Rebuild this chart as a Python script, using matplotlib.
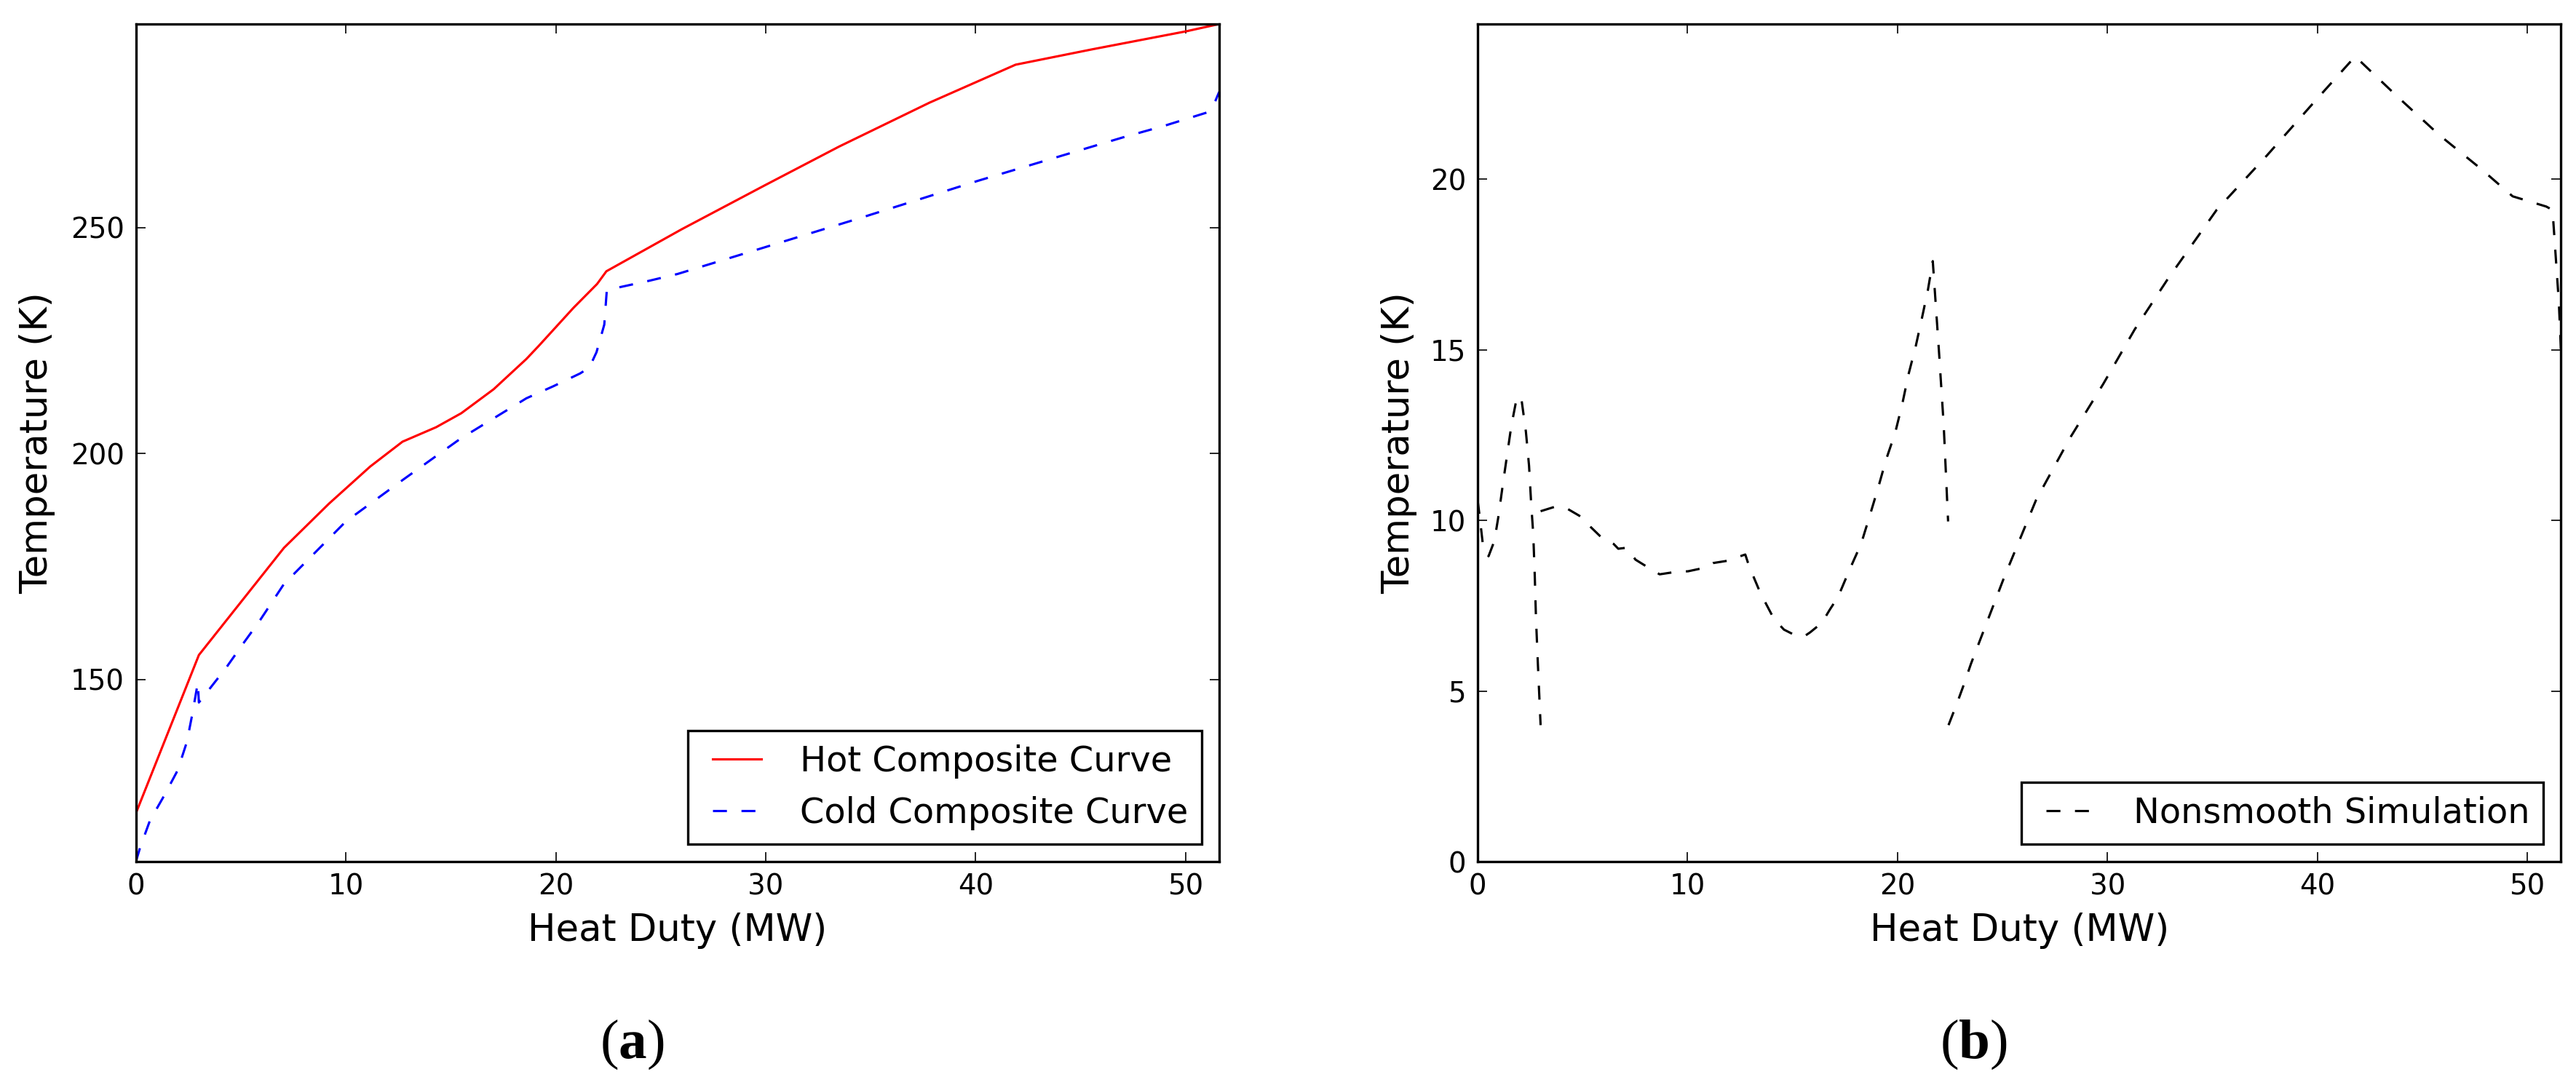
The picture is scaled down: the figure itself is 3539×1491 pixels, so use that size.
import numpy as np
import matplotlib
matplotlib.use("Agg")
import matplotlib.pyplot as plt

# --- data ---
# (a) composite curves
hot_q = [0, 3.0, 7.05, 9.2, 11.16, 12.7, 14.3, 15.5, 17.04, 18.6, 19.19, 20.84,
         21.97, 22.41, 26.0, 29.95, 33.5, 37.8, 41.9, 45.55, 50.04, 51.6]
hot_t = [120.4, 155.4, 179.1, 188.9, 197.1, 202.6, 205.8, 208.9, 214.2, 220.9, 223.8, 232.2,
         237.5, 240.3, 249.6, 259.3, 267.9, 277.6, 286.0, 289.4, 293.4, 295.0]

cold_q = [0, 0.2, 0.67, 1.36, 1.99, 2.43, 2.69, 2.95, 3.0, 3.44, 4.3, 5.12, 5.9, 7.05,
          9.99, 12.73, 15.47, 18.6, 19.9, 21.16, 21.6, 21.94, 22.31, 22.43, 23.07, 24.45,
          25.8, 29.95, 34.65, 40.1, 45.56, 47.0, 49.0, 51.0, 51.4, 51.6]
cold_t = [109.7, 112.8, 118.8, 124.4, 129.9, 136.2, 142.4, 149.3, 144.9, 147.5, 152.6, 158.0, 163.0, 171.1,
          184.9, 194.2, 203.3, 212.2, 214.9, 217.7, 219.0, 222.4, 228.5, 236.1, 236.8, 238.2,
          239.7, 245.6, 252.3, 260.3, 267.9, 269.9, 272.5, 275.4, 277.8, 280.0]

# (b) nonsmooth simulation, three pieces
ns_q1 = [0, 0.1, 0.25, 0.52, 0.8, 1.0, 1.2, 1.4, 1.6, 1.85, 1.97, 2.1, 2.3, 2.45, 2.55,
         2.65, 2.72, 2.78, 2.87, 3.0]
ns_t1 = [10.6, 10.1, 9.3, 8.95, 9.4, 10.15, 11.05, 11.9, 12.75, 13.55, 13.65, 13.5, 12.6, 11.6, 10.5,
         9.6, 8.42, 7.14, 5.8, 4.0]
ns_q2 = [3.0, 3.68, 4.28, 4.92, 5.38, 5.9, 6.48, 6.7, 7.11, 7.52, 8.07, 8.67, 9.31, 10.03,
         10.64, 11.21, 11.93, 12.6, 12.75, 12.93, 13.47, 14.11, 14.59, 15.2, 15.6, 15.84, 16.4,
         16.77, 17.17, 17.72, 18.27, 18.67, 19.08, 19.45, 19.89, 20.23, 20.52, 20.87, 21.16,
         21.45, 21.68, 21.97, 22.2, 22.41]
ns_t2 = [10.27, 10.4, 10.34, 10.11, 9.81, 9.5, 9.31, 9.17, 9.2, 8.85, 8.64, 8.42, 8.48, 8.51,
         8.59, 8.75, 8.82, 8.97, 9.0, 8.66, 7.87, 7.12, 6.8, 6.61, 6.62, 6.72, 7.0,
         7.38, 7.76, 8.56, 9.32, 10.12, 10.96, 11.77, 12.57, 13.42, 14.27, 15.11, 15.92,
         16.76, 17.6, 15.0, 12.8, 9.97]
ns_q3 = [22.43, 22.84, 23.12, 23.5, 25.06, 26.6, 28.2, 29.8, 31.3, 32.9, 35.2, 37.6, 39.9,
         41.8, 43.85, 45.8, 47.8, 49.3, 50.9, 51.2, 51.5, 51.6]
ns_t3 = [4.0, 4.65, 5.12, 5.8, 8.3, 10.6, 12.4, 14.0, 15.6, 17.1, 19.1, 20.7, 22.3,
         23.6, 22.4, 21.3, 20.3, 19.5, 19.2, 19.1, 16.4, 15.0]

plt.rcParams['font.family'] = ['DejaVu Sans']
plt.rcParams['mathtext.fontset'] = 'custom'
plt.rcParams['mathtext.bf'] = 'Liberation Serif:bold'
plt.rcParams['mathtext.rm'] = 'Liberation Serif'
plt.rcParams['lines.scale_dashes'] = False

W, H = 3539, 1491
fig = plt.figure(figsize=(W / 300, H / 300), dpi=300)

ax_w = 1488.3 / W
ax_h = 1151 / H
ax_b = 1 - 1184 / H
ax1 = fig.add_axes([186.7 / W, ax_b, ax_w, ax_h])
ax2 = fig.add_axes([2030 / W, ax_b, ax_w, ax_h])

dash = (0, (4.6, 4.8))
ax1.plot(hot_q, hot_t, color='#ff0000', lw=0.75, label='Hot Composite Curve')
ax1.plot(cold_q, cold_t, color='#0000ff', lw=0.75, linestyle=dash,
         label='Cold Composite Curve')

# join the three pieces with gaps so they share one legend entry
ns_q = ns_q1 + [np.nan] + ns_q2 + [np.nan] + ns_q3
ns_t = ns_t1 + [np.nan] + ns_t2 + [np.nan] + ns_t3
ax2.plot(ns_q, ns_t, color='black', lw=0.75, linestyle=dash,
         label='Nonsmooth Simulation')

ax1.set_xlim(0, 51.6)
ax1.set_ylim(109.7, 295.0)
ax1.set_yticks([150, 200, 250])
ax2.set_xlim(0, 51.6)
ax2.set_ylim(0, 24.55)
ax2.set_yticks([0, 5, 10, 15, 20])

for ax, ylx in ((ax1, -0.091), (ax2, -0.0723)):
    ax.set_xticks([0, 10, 20, 30, 40, 50])
    ax.tick_params(direction='in', top=True, right=True, length=3.2, width=0.4,
                   labelsize=9.3, pad=3.8)
    for sp in ax.spines.values():
        sp.set_linewidth(0.8)
    ax.set_xlabel('Heat Duty (MW)', fontsize=12.3, va='baseline')
    ax.xaxis.set_label_coords(0.5, -0.095)
    ax.set_ylabel('Temperature (K)', fontsize=12.3, va='center')
    ax.yaxis.set_label_coords(ylx, 0.5)
    leg = ax.legend(loc='lower right', fontsize=11.5, numpoints=2, fancybox=False,
                    framealpha=1, edgecolor='black', borderpad=0.4, labelspacing=0.5,
                    handlelength=2.0, handletextpad=0.8, borderaxespad=0.5)
    leg.get_frame().set_linewidth(0.8)

fig.text(868 / W, 1 - 1453.3 / H, r'($\mathbf{a}$)', ha='center', va='baseline',
         fontsize=18.5, family='Liberation Serif')
fig.text(2711.3 / W, 1 - 1453.3 / H, r'($\mathbf{b}$)', ha='center', va='baseline',
         fontsize=18.5, family='Liberation Serif')

fig.savefig('out.png', dpi=300, facecolor='white')
